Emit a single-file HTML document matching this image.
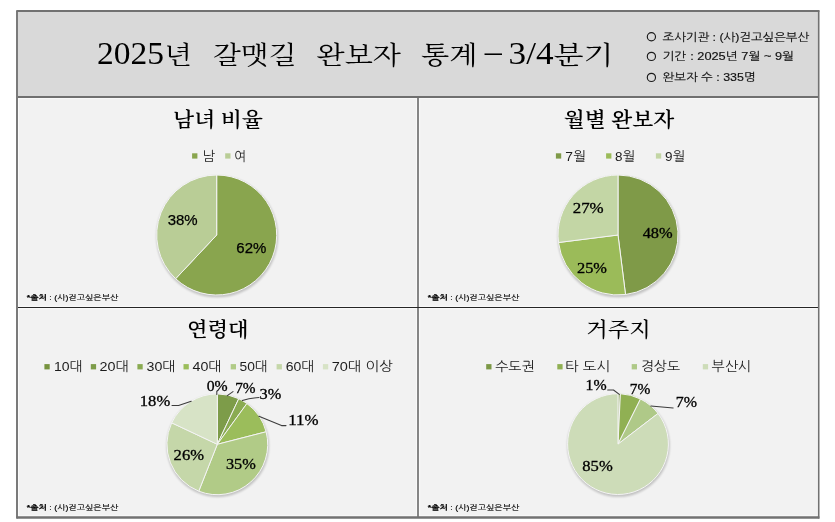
<!DOCTYPE html>
<html lang="ko"><head><meta charset="utf-8"><title>2025년 갈맷길 완보자 통계 – 3/4분기</title>
<style>html,body{margin:0;padding:0;background:#fff;}body{width:835px;height:522px;overflow:hidden;}svg{display:block;}text{white-space:pre;}</style>
</head><body>
<svg width="835" height="522" viewBox="0 0 835 522">
<defs><filter id="bl" x="-20%" y="-20%" width="140%" height="140%"><feGaussianBlur stdDeviation="1.0"/></filter></defs>
<rect width="835" height="522" fill="#fff"/>
<rect x="17" y="11" width="801.5" height="86" fill="#d9d9d9"/>
<rect x="17" y="97" width="801.5" height="420.5" fill="#f2f2f2"/>
<g fill="none" stroke="#fafafa" stroke-width="1">
<rect x="18.5" y="98.6" width="398.2" height="207.7"/>
<rect x="419.6" y="98.6" width="397.9" height="207.7"/>
<rect x="18.5" y="308.7" width="398.2" height="207.1"/>
<rect x="419.6" y="308.7" width="397.9" height="207.1"/>
</g>
<line x1="418" y1="97" x2="418" y2="517" stroke="#808080" stroke-width="1.9"/>
<line x1="17" y1="307.5" x2="818.5" y2="307.5" stroke="#262626" stroke-width="1.15"/>
<line x1="17" y1="97" x2="818.5" y2="97" stroke="#707070" stroke-width="2.2"/>
<path d="M17 10.5V518.5" stroke="#7a7a7a" stroke-width="2" fill="none"/>
<path d="M16.5 11H819.4" stroke="#727272" stroke-width="2" fill="none"/>
<path d="M818.7 10.5V518.5" stroke="#727272" stroke-width="1.6" fill="none"/>
<path d="M16.5 517.5H819.4" stroke="#727272" stroke-width="2.4" fill="none"/>
<text x="97" y="64" font-family='"Liberation Serif", "Noto Serif CJK SC", serif' font-size="32" font-weight="normal" fill="#000" text-anchor="start" textLength="67" lengthAdjust="spacingAndGlyphs">2025</text>
<text x="164.5" y="63.5" font-family='"Liberation Serif", "Noto Serif CJK SC", serif' font-size="25.5" font-weight="normal" fill="#000" text-anchor="start" textLength="27.5" lengthAdjust="spacingAndGlyphs">년</text>
<text x="213" y="63.5" font-family='"Liberation Serif", "Noto Serif CJK SC", serif' font-size="25.5" font-weight="normal" fill="#000" text-anchor="start" textLength="83.5" lengthAdjust="spacingAndGlyphs">갈맷길</text>
<text x="316.5" y="63.5" font-family='"Liberation Serif", "Noto Serif CJK SC", serif' font-size="25.5" font-weight="normal" fill="#000" text-anchor="start" textLength="84.5" lengthAdjust="spacingAndGlyphs">완보자</text>
<text x="421" y="63.5" font-family='"Liberation Serif", "Noto Serif CJK SC", serif' font-size="25.5" font-weight="normal" fill="#000" text-anchor="start" textLength="56.5" lengthAdjust="spacingAndGlyphs">통계</text>
<text x="484.8" y="62.4" font-family='"Liberation Serif", "Noto Serif CJK SC", serif' font-size="32" font-weight="normal" fill="#000" text-anchor="start" textLength="17" lengthAdjust="spacingAndGlyphs">–</text>
<text x="508.6" y="64" font-family='"Liberation Serif", "Noto Serif CJK SC", serif' font-size="32" font-weight="normal" fill="#000" text-anchor="start" textLength="45" lengthAdjust="spacingAndGlyphs">3/4</text>
<text x="553.4" y="63.5" font-family='"Liberation Serif", "Noto Serif CJK SC", serif' font-size="25.5" font-weight="normal" fill="#000" text-anchor="start" textLength="60" lengthAdjust="spacingAndGlyphs">분기</text>
<circle cx="651.4" cy="36.7" r="4.1" fill="none" stroke="#1a1a1a" stroke-width="1.15"/>
<text x="662.6" y="40.6" font-family='"Liberation Sans", "NanumGothic", "Noto Sans CJK KR", sans-serif' font-size="11" font-weight="normal" fill="#111" text-anchor="start" textLength="146.5" lengthAdjust="spacingAndGlyphs" stroke="#111" stroke-width="0.15">조사기관 : (사)걷고싶은부산</text>
<circle cx="651.4" cy="56.4" r="4.1" fill="none" stroke="#1a1a1a" stroke-width="1.15"/>
<text x="662.6" y="60.3" font-family='"Liberation Sans", "NanumGothic", "Noto Sans CJK KR", sans-serif' font-size="11" font-weight="normal" fill="#111" text-anchor="start" textLength="131.5" lengthAdjust="spacingAndGlyphs" stroke="#111" stroke-width="0.15">기간 : 2025년 7월 ~ 9월</text>
<circle cx="651.4" cy="77.39999999999999" r="4.1" fill="none" stroke="#1a1a1a" stroke-width="1.15"/>
<text x="662.6" y="81.3" font-family='"Liberation Sans", "NanumGothic", "Noto Sans CJK KR", sans-serif' font-size="11" font-weight="normal" fill="#111" text-anchor="start" textLength="93" lengthAdjust="spacingAndGlyphs" stroke="#111" stroke-width="0.15">완보자 수 : 335명</text>
<text x="218" y="126.6" font-family='"Liberation Serif", "Noto Serif CJK SC", serif' font-size="20" font-weight="600" fill="#000" text-anchor="middle" textLength="90" lengthAdjust="spacingAndGlyphs">남녀 비율</text>
<text x="619" y="126.6" font-family='"Liberation Serif", "Noto Serif CJK SC", serif' font-size="20" font-weight="600" fill="#000" text-anchor="middle" textLength="110.5" lengthAdjust="spacingAndGlyphs">월별 완보자</text>
<text x="217.8" y="337" font-family='"Liberation Serif", "Noto Serif CJK SC", serif' font-size="20" font-weight="600" fill="#000" text-anchor="middle" textLength="61.5" lengthAdjust="spacingAndGlyphs">연령대</text>
<text x="618.6" y="337" font-family='"Liberation Serif", "Noto Serif CJK SC", serif' font-size="20" font-weight="500" fill="#000" text-anchor="middle" textLength="64.5" lengthAdjust="spacingAndGlyphs">거주지</text>
<rect x="192.1" y="153.3" width="5.3" height="5.3" fill="#89a54e"/>
<text x="202.3" y="160.5" font-family='"Liberation Sans", "NanumGothic", "Noto Sans CJK KR", sans-serif' font-size="13.3" font-weight="normal" fill="#1c1c1c" text-anchor="start" textLength="12.4" lengthAdjust="spacingAndGlyphs">남</text>
<rect x="225.2" y="153.3" width="5.3" height="5.3" fill="#b9cd96"/>
<text x="234.3" y="160.5" font-family='"Liberation Sans", "NanumGothic", "Noto Sans CJK KR", sans-serif' font-size="13.3" font-weight="normal" fill="#1c1c1c" text-anchor="start" textLength="11.7" lengthAdjust="spacingAndGlyphs">여</text>
<circle cx="217.2" cy="236.5" r="60.8" fill="#000" opacity="0.2" filter="url(#bl)"/>
<path d="M216.7 235L216.70 175.00A60 60 0 1 1 175.63 278.74Z" fill="#89a54e" stroke="#f4f4f4" stroke-width="1" stroke-linejoin="round"/>
<path d="M216.7 235L175.63 278.74A60 60 0 0 1 216.70 175.00Z" fill="#b9cd96" stroke="#f4f4f4" stroke-width="1" stroke-linejoin="round"/>
<text x="167.7" y="225.3" font-family='"Liberation Sans", sans-serif' font-size="15.5" font-weight="normal" fill="#000" text-anchor="start" textLength="30" lengthAdjust="spacingAndGlyphs" stroke="#000" stroke-width="0.25">38%</text>
<text x="236.3" y="253.3" font-family='"Liberation Sans", sans-serif' font-size="15.5" font-weight="normal" fill="#000" text-anchor="start" textLength="30" lengthAdjust="spacingAndGlyphs" stroke="#000" stroke-width="0.25">62%</text>
<text x="26.8" y="300.4" font-family='"Liberation Sans", "NanumGothic", "Noto Sans CJK KR", sans-serif' font-size="7.2" fill="#000" stroke="#000" stroke-width="0.15" textLength="91.5" lengthAdjust="spacingAndGlyphs"><tspan font-weight="bold">*출처</tspan> : (사)걷고싶은부산</text>
<rect x="555.9" y="153.3" width="5.3" height="5.3" fill="#7f9a48"/>
<text x="565.3" y="160.5" font-family='"Liberation Sans", "NanumGothic", "Noto Sans CJK KR", sans-serif' font-size="13.3" font-weight="normal" fill="#1c1c1c" text-anchor="start" textLength="20.7" lengthAdjust="spacingAndGlyphs">7월</text>
<rect x="606.1" y="153.3" width="5.3" height="5.3" fill="#9bbb59"/>
<text x="615.1" y="160.5" font-family='"Liberation Sans", "NanumGothic", "Noto Sans CJK KR", sans-serif' font-size="13.3" font-weight="normal" fill="#1c1c1c" text-anchor="start" textLength="20.2" lengthAdjust="spacingAndGlyphs">8월</text>
<rect x="655.9" y="153.3" width="5.3" height="5.3" fill="#c3d6a5"/>
<text x="664.9" y="160.5" font-family='"Liberation Sans", "NanumGothic", "Noto Sans CJK KR", sans-serif' font-size="13.3" font-weight="normal" fill="#1c1c1c" text-anchor="start" textLength="20.2" lengthAdjust="spacingAndGlyphs">9월</text>
<circle cx="618.5" cy="236.5" r="60.8" fill="#000" opacity="0.2" filter="url(#bl)"/>
<path d="M618 235L618.00 175.00A60 60 0 0 1 625.52 294.53Z" fill="#7f9a48" stroke="#f4f4f4" stroke-width="1" stroke-linejoin="round"/>
<path d="M618 235L625.52 294.53A60 60 0 0 1 558.47 242.52Z" fill="#9bbb59" stroke="#f4f4f4" stroke-width="1" stroke-linejoin="round"/>
<path d="M618 235L558.47 242.52A60 60 0 0 1 618.00 175.00Z" fill="#c3d6a5" stroke="#f4f4f4" stroke-width="1" stroke-linejoin="round"/>
<text x="642.7" y="237.7" font-family='"Liberation Serif", serif' font-size="14.8" font-weight="normal" fill="#000" text-anchor="start" textLength="30" lengthAdjust="spacingAndGlyphs" stroke="#000" stroke-width="0.3">48%</text>
<text x="572.7" y="213.2" font-family='"Liberation Serif", serif' font-size="14.8" font-weight="normal" fill="#000" text-anchor="start" textLength="31" lengthAdjust="spacingAndGlyphs" stroke="#000" stroke-width="0.3">27%</text>
<text x="577" y="273" font-family='"Liberation Serif", serif' font-size="14.8" font-weight="normal" fill="#000" text-anchor="start" textLength="30" lengthAdjust="spacingAndGlyphs" stroke="#000" stroke-width="0.3">25%</text>
<text x="427.8" y="300.4" font-family='"Liberation Sans", "NanumGothic", "Noto Sans CJK KR", sans-serif' font-size="7.2" fill="#000" stroke="#000" stroke-width="0.15" textLength="91.5" lengthAdjust="spacingAndGlyphs"><tspan font-weight="bold">*출처</tspan> : (사)걷고싶은부산</text>
<rect x="44.4" y="364.1" width="5.3" height="5.3" fill="#77933f"/>
<text x="54" y="371.3" font-family='"Liberation Sans", "NanumGothic", "Noto Sans CJK KR", sans-serif' font-size="13.3" font-weight="normal" fill="#1c1c1c" text-anchor="start" textLength="28.8" lengthAdjust="spacingAndGlyphs">10대</text>
<rect x="90.8" y="364.1" width="5.3" height="5.3" fill="#7d9c49"/>
<text x="99.5" y="371.3" font-family='"Liberation Sans", "NanumGothic", "Noto Sans CJK KR", sans-serif' font-size="13.3" font-weight="normal" fill="#1c1c1c" text-anchor="start" textLength="29.5" lengthAdjust="spacingAndGlyphs">20대</text>
<rect x="137.4" y="364.1" width="5.3" height="5.3" fill="#8aab52"/>
<text x="146.5" y="371.3" font-family='"Liberation Sans", "NanumGothic", "Noto Sans CJK KR", sans-serif' font-size="13.3" font-weight="normal" fill="#1c1c1c" text-anchor="start" textLength="29.2" lengthAdjust="spacingAndGlyphs">30대</text>
<rect x="183.5" y="364.1" width="5.3" height="5.3" fill="#9bbd5b"/>
<text x="192.5" y="371.3" font-family='"Liberation Sans", "NanumGothic", "Noto Sans CJK KR", sans-serif' font-size="13.3" font-weight="normal" fill="#1c1c1c" text-anchor="start" textLength="29.2" lengthAdjust="spacingAndGlyphs">40대</text>
<rect x="230.7" y="364.1" width="5.3" height="5.3" fill="#b1cb87"/>
<text x="239.5" y="371.3" font-family='"Liberation Sans", "NanumGothic", "Noto Sans CJK KR", sans-serif' font-size="13.3" font-weight="normal" fill="#1c1c1c" text-anchor="start" textLength="28.3" lengthAdjust="spacingAndGlyphs">50대</text>
<rect x="276.6" y="364.1" width="5.3" height="5.3" fill="#c5d7a9"/>
<text x="285.7" y="371.3" font-family='"Liberation Sans", "NanumGothic", "Noto Sans CJK KR", sans-serif' font-size="13.3" font-weight="normal" fill="#1c1c1c" text-anchor="start" textLength="28.8" lengthAdjust="spacingAndGlyphs">60대</text>
<rect x="322.9" y="364.1" width="5.3" height="5.3" fill="#d7e3c6"/>
<text x="331.7" y="371.3" font-family='"Liberation Sans", "NanumGothic", "Noto Sans CJK KR", sans-serif' font-size="13.3" font-weight="normal" fill="#1c1c1c" text-anchor="start" textLength="61.1" lengthAdjust="spacingAndGlyphs">70대 이상</text>
<circle cx="217.8" cy="445.8" r="51.199999999999996" fill="#000" opacity="0.2" filter="url(#bl)"/>
<path d="M217.3 444.3L217.30 393.90A50.4 50.4 0 0 1 238.76 398.70Z" fill="#7d9c49" stroke="#f4f4f4" stroke-width="1" stroke-linejoin="round"/>
<path d="M217.3 444.3L238.76 398.70A50.4 50.4 0 0 1 246.92 403.53Z" fill="#8aab52" stroke="#f4f4f4" stroke-width="1" stroke-linejoin="round"/>
<path d="M217.3 444.3L246.92 403.53A50.4 50.4 0 0 1 266.12 431.77Z" fill="#9bbd5b" stroke="#f4f4f4" stroke-width="1" stroke-linejoin="round"/>
<path d="M217.3 444.3L266.12 431.77A50.4 50.4 0 0 1 198.75 491.16Z" fill="#b1cb87" stroke="#f4f4f4" stroke-width="1" stroke-linejoin="round"/>
<path d="M217.3 444.3L198.75 491.16A50.4 50.4 0 0 1 171.70 422.84Z" fill="#c5d7a9" stroke="#f4f4f4" stroke-width="1" stroke-linejoin="round"/>
<path d="M217.3 444.3L171.70 422.84A50.4 50.4 0 0 1 217.30 393.90Z" fill="#d7e3c6" stroke="#f4f4f4" stroke-width="1" stroke-linejoin="round"/>
<g fill="none" stroke="#3c3c3c" stroke-width="1.05" stroke-linecap="round" stroke-linejoin="round">
<path d="M216.8 391V394.4"/>
<path d="M227.3 395.6L233 391.6"/>
<path d="M242.3 400.5Q250 398.1 259 397.4"/>
<path d="M258.9 416.3L281.5 425.6H286"/>
<path d="M191.2 401.2L178.6 405.5H172"/>
</g>
<text x="206.7" y="391.2" font-family='"Liberation Serif", serif' font-size="14.8" font-weight="normal" fill="#000" text-anchor="start" textLength="21" lengthAdjust="spacingAndGlyphs" stroke="#000" stroke-width="0.3">0%</text>
<text x="235.2" y="393" font-family='"Liberation Serif", serif' font-size="14.8" font-weight="normal" fill="#000" text-anchor="start" textLength="20.4" lengthAdjust="spacingAndGlyphs" stroke="#000" stroke-width="0.3">7%</text>
<text x="259.5" y="399.4" font-family='"Liberation Serif", serif' font-size="14.8" font-weight="normal" fill="#000" text-anchor="start" textLength="21.7" lengthAdjust="spacingAndGlyphs" stroke="#000" stroke-width="0.3">3%</text>
<text x="288.2" y="425.3" font-family='"Liberation Serif", serif' font-size="14.8" font-weight="normal" fill="#000" text-anchor="start" textLength="30.3" lengthAdjust="spacingAndGlyphs" stroke="#000" stroke-width="0.3">11%</text>
<text x="139.8" y="405.6" font-family='"Liberation Serif", serif' font-size="14.8" font-weight="normal" fill="#000" text-anchor="start" textLength="30.4" lengthAdjust="spacingAndGlyphs" stroke="#000" stroke-width="0.3">18%</text>
<text x="173.6" y="460.2" font-family='"Liberation Serif", serif' font-size="14.8" font-weight="normal" fill="#000" text-anchor="start" textLength="30.4" lengthAdjust="spacingAndGlyphs" stroke="#000" stroke-width="0.3">26%</text>
<text x="225.9" y="468.9" font-family='"Liberation Serif", serif' font-size="14.8" font-weight="normal" fill="#000" text-anchor="start" textLength="29.9" lengthAdjust="spacingAndGlyphs" stroke="#000" stroke-width="0.3">35%</text>
<text x="26.8" y="510.4" font-family='"Liberation Sans", "NanumGothic", "Noto Sans CJK KR", sans-serif' font-size="7.2" fill="#000" stroke="#000" stroke-width="0.15" textLength="91.5" lengthAdjust="spacingAndGlyphs"><tspan font-weight="bold">*출처</tspan> : (사)걷고싶은부산</text>
<rect x="486.2" y="364.1" width="5.3" height="5.3" fill="#7c9846"/>
<text x="495.2" y="371.3" font-family='"Liberation Sans", "NanumGothic", "Noto Sans CJK KR", sans-serif' font-size="13.3" font-weight="normal" fill="#1c1c1c" text-anchor="start" textLength="39.5" lengthAdjust="spacingAndGlyphs">수도권</text>
<rect x="557.3" y="364.1" width="5.3" height="5.3" fill="#90b053"/>
<text x="565.2" y="371.3" font-family='"Liberation Sans", "NanumGothic", "Noto Sans CJK KR", sans-serif' font-size="13.3" font-weight="normal" fill="#1c1c1c" text-anchor="start" textLength="44.9" lengthAdjust="spacingAndGlyphs">타 도시</text>
<rect x="631.7" y="364.1" width="5.3" height="5.3" fill="#afc988"/>
<text x="640.7" y="371.3" font-family='"Liberation Sans", "NanumGothic", "Noto Sans CJK KR", sans-serif' font-size="13.3" font-weight="normal" fill="#1c1c1c" text-anchor="start" textLength="39.5" lengthAdjust="spacingAndGlyphs">경상도</text>
<rect x="702.8" y="364.1" width="5.3" height="5.3" fill="#cddcb8"/>
<text x="711.5" y="371.3" font-family='"Liberation Sans", "NanumGothic", "Noto Sans CJK KR", sans-serif' font-size="13.3" font-weight="normal" fill="#1c1c1c" text-anchor="start" textLength="39.5" lengthAdjust="spacingAndGlyphs">부산시</text>
<circle cx="618.5" cy="445.6" r="51.199999999999996" fill="#000" opacity="0.2" filter="url(#bl)"/>
<path d="M618.0 444.1L618.00 393.70A50.4 50.4 0 0 1 620.37 393.76Z" fill="#7c9846" stroke="#f4f4f4" stroke-width="1" stroke-linejoin="round"/>
<path d="M618.0 444.1L620.37 393.76A50.4 50.4 0 0 1 640.51 399.01Z" fill="#90b053" stroke="#f4f4f4" stroke-width="1" stroke-linejoin="round"/>
<path d="M618.0 444.1L640.51 399.01A50.4 50.4 0 0 1 658.02 413.46Z" fill="#afc988" stroke="#f4f4f4" stroke-width="1" stroke-linejoin="round"/>
<path d="M618.0 444.1L658.02 413.46A50.4 50.4 0 1 1 618.00 393.70Z" fill="#cddcb8" stroke="#f4f4f4" stroke-width="1" stroke-linejoin="round"/>
<g fill="none" stroke="#3c3c3c" stroke-width="1.05" stroke-linecap="round" stroke-linejoin="round">
<path d="M607.7 390H613.5L619.3 394.4"/>
<path d="M650.8 406.1L673.2 407.9"/>
</g>
<text x="585.6" y="390" font-family='"Liberation Serif", serif' font-size="14.8" font-weight="normal" fill="#000" text-anchor="start" textLength="21.1" lengthAdjust="spacingAndGlyphs" stroke="#000" stroke-width="0.3">1%</text>
<text x="629.7" y="394.2" font-family='"Liberation Serif", serif' font-size="14.8" font-weight="normal" fill="#000" text-anchor="start" textLength="20.6" lengthAdjust="spacingAndGlyphs" stroke="#000" stroke-width="0.3">7%</text>
<text x="675.7" y="407.4" font-family='"Liberation Serif", serif' font-size="14.8" font-weight="normal" fill="#000" text-anchor="start" textLength="21.3" lengthAdjust="spacingAndGlyphs" stroke="#000" stroke-width="0.3">7%</text>
<text x="582.3" y="470.9" font-family='"Liberation Serif", serif' font-size="14.8" font-weight="normal" fill="#000" text-anchor="start" textLength="30.4" lengthAdjust="spacingAndGlyphs" stroke="#000" stroke-width="0.3">85%</text>
<text x="427.8" y="510.4" font-family='"Liberation Sans", "NanumGothic", "Noto Sans CJK KR", sans-serif' font-size="7.2" fill="#000" stroke="#000" stroke-width="0.15" textLength="91.5" lengthAdjust="spacingAndGlyphs"><tspan font-weight="bold">*출처</tspan> : (사)걷고싶은부산</text>
</svg></body></html>
